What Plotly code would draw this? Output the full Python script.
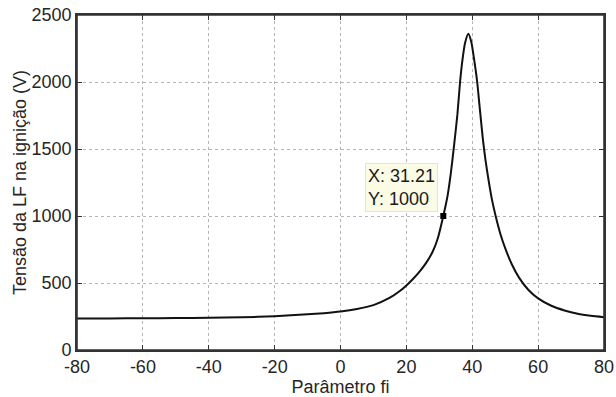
import plotly.graph_objects as go

# Data
fi = [-80, -70, -60, -50, -40, -30, -20, -10, -5, 0, 5, 10, 15, 18, 20, 22, 24, 26, 28, 29.5,
      31.21, 32.5, 33.5, 34.5, 35.5, 36.3, 37, 37.8, 38.8, 39.7, 40.5, 41.5, 42.3, 43.2, 44,
      45, 46, 47.1, 48.5, 50, 52, 54.2, 57, 60, 64, 68, 72, 76, 80]
tensao = [235, 236, 237, 238, 240, 244, 252, 266, 275, 287, 306, 335, 390, 440, 482, 530, 585,
          650, 735, 830, 1000, 1150, 1320, 1530, 1760, 2000, 2160, 2290, 2360, 2300, 2180, 2000,
          1800, 1580, 1420, 1260, 1120, 1000, 870, 760, 640, 540, 450, 385, 330, 295, 270, 255, 245]

tip_x = [31.21]
tip_y = [1000]

x_ticks = [-80, -60, -40, -20, 0, 20, 40, 60, 80]
y_ticks = [0, 500, 1000, 1500, 2000, 2500]

font_family = "Liberation Sans, Arial, sans-serif"
txt_color = "#262626"

fig = go.Figure()
fig.add_trace(go.Scatter(x=fi, y=tensao, mode="lines",
                         line=dict(color="#111111", width=2, shape="spline", smoothing=0.6),
                         showlegend=False, hoverinfo="skip"))
fig.add_trace(go.Scatter(x=tip_x, y=tip_y, mode="markers",
                         marker=dict(symbol="square", size=6, color="black"),
                         showlegend=False, hoverinfo="skip"))

fig.add_annotation(x=tip_x[0], y=tip_y[0], xref="x", yref="y",
                   text="X: 31.21<br>Y: 1000", showarrow=False, align="left",
                   xanchor="right", yanchor="bottom", xshift=-5, yshift=4,
                   font=dict(family=font_family, size=18, color="#1a1a1a"),
                   bgcolor="#fbfbe6", bordercolor="#e4e4d0", borderwidth=1, borderpad=2)

# axes frame (box around the plot area)
fig.add_shape(type="rect", xref="paper", yref="paper", x0=0, y0=0, x1=1, y1=1,
              line=dict(color="#333333", width=1.6), layer="above")

axis_common = dict(showline=True, linecolor="#333333", linewidth=1.6, mirror="ticks",
                   ticks="inside", ticklen=5, tickcolor="#333333",
                   showgrid=True, gridcolor="#b5b5b5", griddash="dot", gridwidth=1,
                   zeroline=False, ticklabeloverflow="allow",
                   tickfont=dict(family=font_family, size=18, color=txt_color))

fig.update_xaxes(range=[-80, 80], tickvals=x_ticks, ticktext=[str(v) for v in x_ticks],
                 title=dict(text="Parâmetro fi", standoff=0,
                            font=dict(family=font_family, size=18, color=txt_color)),
                 **axis_common)
fig.update_yaxes(range=[0, 2500], tickvals=y_ticks, ticktext=[str(v) for v in y_ticks],
                 title=dict(text="Tensão da LF na ignição (V)", standoff=0,
                            font=dict(family=font_family, size=18, color=txt_color)),
                 **axis_common)

fig.update_layout(width=616, height=397,
                  margin=dict(l=77, r=12, t=15, b=47, autoexpand=False),
                  paper_bgcolor="white", plot_bgcolor="white",
                  font=dict(family=font_family, color=txt_color))

fig.write_html("out.html", config={"displayModeBar": False},
               post_script="document.body.style.margin='0';document.body.style.overflow='hidden';")
